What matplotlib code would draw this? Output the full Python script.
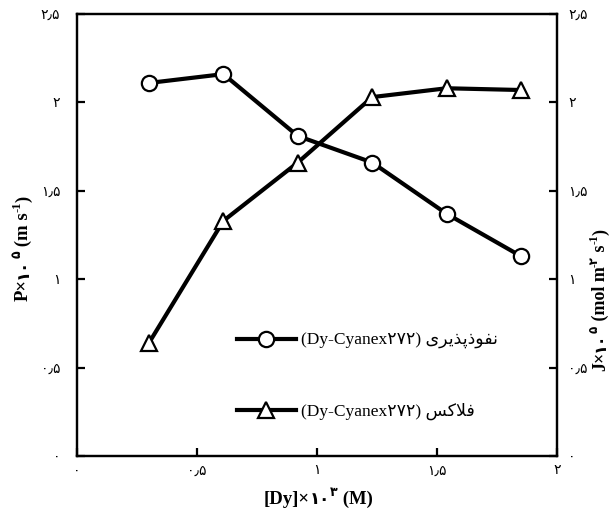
import matplotlib
matplotlib.use('Agg')
import matplotlib.pyplot as plt

# داده‌ها (خوانده‌شده از نمودار)
conc = [0.30, 0.61, 0.92, 1.23, 1.54, 1.85]
perm = [2.11, 2.16, 1.81, 1.66, 1.37, 1.13]
flux = [0.64, 1.33, 1.66, 2.03, 2.08, 2.07]

x_ticks = [0, 0.5, 1, 1.5, 2]
x_tick_labels = ['۰', '۰٫۵', '۱', '۱٫۵', '۲']
y_ticks = [0, 0.5, 1, 1.5, 2, 2.5]
y_tick_labels = ['۰', '۰٫۵', '۱', '۱٫۵', '۲', '۲٫۵']

# برچسب‌های فارسی به شکل نمایشی (حروف متصل، ترتیب دیداری)
label_perm = '(Dy-Cyanex۲۷۲) ' + '\uFBFC\uFEAE\uFBFE\uFEAC\uFB58\uFEAB\uFEEE\uFED4\uFEE7'
label_flux = '(Dy-Cyanex۲۷۲) ' + '\uFEB2\uFB90\uFEFC\uFED3'

FAM = ['Liberation Serif', 'DejaVu Sans']

fig = plt.figure(figsize=(6.1, 5.11), dpi=100)
ax = fig.add_axes([77 / 610, 55 / 511, 480 / 610, 442 / 511])
ax2 = ax.twinx()

l1, = ax.plot(conc, perm, color='black', lw=3, marker='o', ms=11,
              mfc='white', mec='black', mew=1.6, label=label_perm)
l2, = ax2.plot(conc, flux, color='black', lw=3, marker='^', ms=11,
               mfc='white', mec='black', mew=1.6, label=label_flux)

for a in (ax, ax2):
    a.set_xlim(0, 2)
    a.set_ylim(0, 2.5)
    for s in a.spines.values():
        s.set_linewidth(1.6)
    a.set_yticks(y_ticks)
    a.set_yticklabels(y_tick_labels, family=FAM, fontsize=10)

ax.set_xticks(x_ticks)
ax.set_xticklabels(x_tick_labels, family=FAM, fontsize=10)
ax.tick_params(axis='x', direction='in', length=6, width=1.6, pad=6)
ax.tick_params(axis='y', direction='in', length=6, width=1.6, pad=12)
ax2.tick_params(axis='y', direction='in', length=6, width=1.6, pad=8)

ax.legend([l1, l2], [label_perm, label_flux], loc='center left',
          bbox_to_anchor=(0.333, 0.180), frameon=False, borderpad=0,
          borderaxespad=0, handlelength=3.4, handletextpad=0.3,
          labelspacing=3.1, prop=dict(family=FAM, size=12.5))


def rich_label(parts, cx, cy, rotation=0):
    # parts: (متن، اندازه، بالابردن بر حسب پوینت)
    texts = []
    for s, size, rise in parts:
        t = fig.text(cx, cy, s, fontsize=size, fontweight='bold', family=FAM,
                     rotation=rotation, rotation_mode='anchor',
                     ha='left', va='baseline')
        texts.append((t, rise))
    fig.canvas.draw()
    r = fig.canvas.get_renderer()
    lens = []
    for t, rise in texts:
        bb = t.get_window_extent(r)
        lens.append(bb.width if rotation == 0 else bb.height)
    X, Y = fig.transFigure.transform((cx, cy))
    pos = -sum(lens) / 2
    inv = fig.transFigure.inverted()
    for (t, rise), L in zip(texts, lens):
        rp = rise * fig.dpi / 72
        p = (X + pos, Y + rp) if rotation == 0 else (X - rp, Y + pos)
        t.set_position(inv.transform(p))
        pos += L


rich_label([('[Dy]×', 13.5, 0), ('۱۰', 12, 0), ('۳', 9, 5.5), (' (M)', 13.5, 0)],
           318 / 610, 7 / 511)
rich_label([('P×', 13.5, 0), ('۱۰', 12, 0), ('۵', 9, 5.5), (' (m s', 13.5, 0),
            ('-1', 9, 5.5), (')', 13.5, 0)], 28 / 610, 1 - 248 / 511, rotation=90)
rich_label([('J×', 13, 0), ('۱۰', 11.5, 0), ('۵', 8.5, 5), (' (mol m', 13, 0),
            ('-۲', 8.5, 5), (' s', 13, 0), ('-1', 8.5, 5), (')', 13, 0)],
           605 / 610, 1 - 300 / 511, rotation=90)

fig.savefig('out.png', dpi=100)
